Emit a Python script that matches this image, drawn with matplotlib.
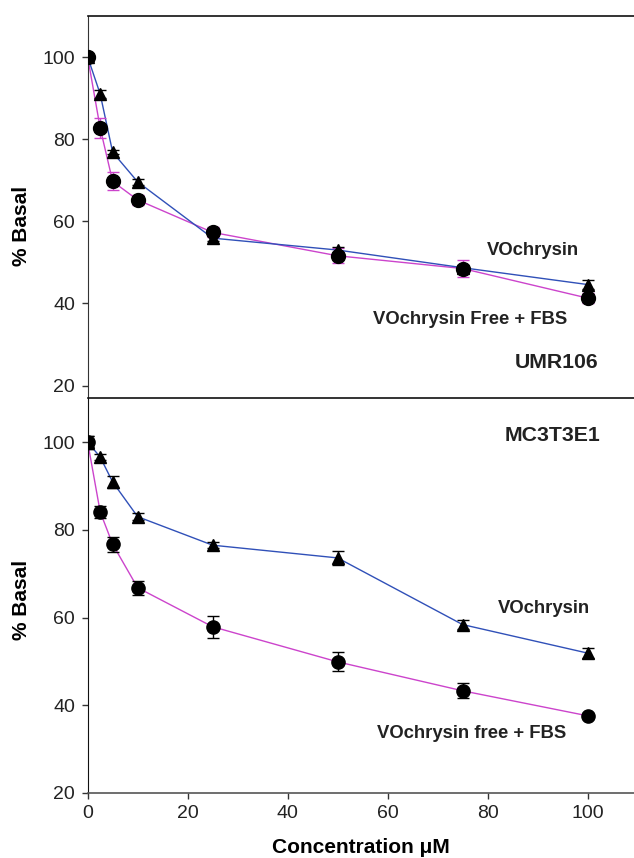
import matplotlib
matplotlib.use("Agg")
import matplotlib.pyplot as plt

# concentrations (uM), shared by both panels
conc = [0, 2.5, 5, 10, 25, 50, 75, 100]

# UMR106 panel
umr_vo = [100, 91.0, 76.8, 69.6, 55.9, 53.0, 48.7, 44.6]
umr_vo_err = [0.4, 1.0, 0.5, 0.8, 0.6, 0.7, 0.6, 1.2]
umr_free = [100, 82.7, 69.7, 65.2, 57.3, 51.6, 48.5, 41.3]
umr_free_err = [0.4, 2.4, 2.2, 1.3, 1.2, 1.8, 2.0, 1.2]

# MC3T3E1 panel
mc_vo = [100, 96.6, 90.9, 83.0, 76.5, 73.6, 58.4, 51.9]
mc_vo_err = [1.5, 0.6, 1.3, 0.8, 0.7, 1.6, 1.1, 1.1]
mc_free = [100, 84.1, 76.7, 66.8, 57.9, 49.9, 43.3, 37.6]
mc_free_err = [1.5, 1.45, 1.7, 1.6, 2.5, 2.2, 1.7, 0.0]

x_ticks = [0, 20, 40, 60, 80, 100]
y_ticks = [20, 40, 60, 80, 100]

BLUE = "#3050b8"
MAGENTA = "#cc44cc"

plt.rcParams['font.family'] = ['Liberation Sans', 'DejaVu Sans']

fig = plt.figure(figsize=(6.34, 8.58), dpi=100)
left, right = 0.1383, 1.0
ax_top = fig.add_axes([left, 0.5358, right - left, 0.9814 - 0.5358])
ax_bot = fig.add_axes([left, 0.0758, right - left, 0.5358 - 0.0758])
ax_bot.patch.set_visible(False)


def draw_series(ax, y, err, line_color, err_color, marker, ms):
    ax.plot(conc, y, color=line_color, lw=1.0, zorder=2)
    ax.errorbar(conc, y, yerr=err, fmt='none', ecolor=err_color,
                elinewidth=1.0, capsize=4.5, capthick=1.0, zorder=3)
    ax.plot(conc, y, linestyle='none', marker=marker, ms=ms,
            color='black', zorder=4)


# top panel
draw_series(ax_top, umr_free, umr_free_err, MAGENTA, MAGENTA, 'o', 10)
draw_series(ax_top, umr_vo, umr_vo_err, BLUE, 'black', '^', 8)
ax_top.set_xlim(0, 109.3)
ax_top.set_ylim(16.9, 110)
ax_top.set_yticks(y_ticks)
ax_top.set_xticks([])
ax_top.spines['right'].set_visible(False)
ax_top.spines['bottom'].set_visible(False)
ax_top.spines['top'].set_linewidth(1.2)
ax_top.spines['top'].set_color('#111111')
ax_top.spines['left'].set_color('#333333')
ax_top.set_ylabel('% Basal', fontsize=15, fontweight='bold')
ax_top.yaxis.set_label_coords(-0.104, 0.45)
ax_top.text(89.1, 52.9, 'VOchrysin', fontsize=13.3, fontweight='bold',
            ha='center', va='center', color='#222222')
ax_top.text(76.6, 36.0, 'VOchrysin Free + FBS', fontsize=13.3,
            fontweight='bold', ha='center', va='center', color='#222222')
ax_top.text(93.9, 25.6, 'UMR106', fontsize=15.3, fontweight='bold',
            ha='center', va='center', color='#222222')

# bottom panel
draw_series(ax_bot, mc_free, mc_free_err, MAGENTA, 'black', 'o', 9.5)
draw_series(ax_bot, mc_vo, mc_vo_err, BLUE, 'black', '^', 8)
ax_bot.set_xlim(0, 109.3)
ax_bot.set_ylim(20, 110)
ax_bot.set_xticks(x_ticks)
ax_bot.set_yticks(y_ticks)
ax_bot.spines['right'].set_visible(False)
ax_bot.spines['top'].set_color('#111111')
ax_bot.spines['top'].set_linewidth(1.2)
ax_bot.spines['bottom'].set_color('#555555')
ax_bot.spines['bottom'].set_linewidth(1.2)
ax_bot.spines['left'].set_color('#111111')
ax_bot.set_ylabel('% Basal', fontsize=15, fontweight='bold')
ax_bot.yaxis.set_label_coords(-0.104, 0.49)
ax_bot.set_xlabel('Concentration μM', fontsize=15, fontweight='bold',
                  labelpad=11)
ax_bot.text(92.9, 101.6, 'MC3T3E1', fontsize=15.3, fontweight='bold',
            ha='center', va='center', color='#222222')
ax_bot.text(91.2, 62.1, 'VOchrysin', fontsize=13.3, fontweight='bold',
            ha='center', va='center', color='#222222')
ax_bot.text(76.9, 33.6, 'VOchrysin free + FBS', fontsize=13.3,
            fontweight='bold', ha='center', va='center', color='#222222')

for ax in (ax_top, ax_bot):
    ax.tick_params(direction='out', length=4.5, width=1.0, labelsize=14,
                   pad=4.5, colors='#333333', labelcolor='#222222')

fig.savefig('out.png', dpi=100)
